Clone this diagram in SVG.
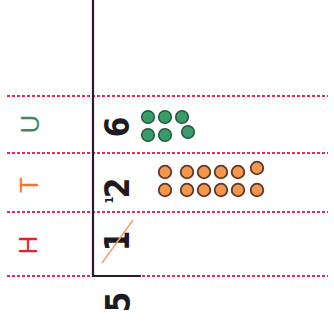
<svg xmlns="http://www.w3.org/2000/svg" width="334" height="327" viewBox="0 0 334 327">
<style>
.dash{stroke:#e62c55;stroke-width:1.8;stroke-dasharray:3 2;fill:none}
.axis{stroke:#2a1c2c;stroke-width:2.2;fill:none}
.lbl{font-family:"Liberation Sans",Arial,sans-serif;font-size:26px;text-anchor:middle}
.dig{font-family:"DejaVu Sans Condensed","DejaVu Sans",sans-serif;font-weight:bold;font-size:33px;text-anchor:middle;fill:#1e1a22}
.g{fill:#3a9a68;stroke:#1f5a3c;stroke-width:1.5}
.o{fill:#f5964a;stroke:#5a3a2e;stroke-width:1.8}
</style>
<rect width="334" height="327" fill="#ffffff"/>
<g id="connectors">
<line class="dash" x1="7" y1="96" x2="328" y2="96"/>
<line class="dash" x1="7" y1="153" x2="328" y2="153"/>
<line class="dash" x1="7" y1="212" x2="328" y2="212"/>
<line class="dash" x1="7" y1="276" x2="328" y2="276"/>
<polyline class="axis" points="93,0 93,276 141,276"/>
</g>
<g id="label-U"><text class="lbl" fill="#3a8a5c" transform="translate(30,124) rotate(-90)" y="9.3">U</text></g>
<g id="label-T"><text class="lbl" fill="#f07a2a" transform="translate(29,185) rotate(-90)" y="9.3">T</text></g>
<g id="label-H"><text class="lbl" fill="#e8202a" transform="translate(28,245) rotate(-90)" y="9.3">H</text></g>
<g id="digit-6"><text class="dig" transform="translate(117,127) rotate(-90)" y="12">6</text></g>
<g id="digit-2"><text class="dig" transform="translate(117,188) rotate(-90)" y="12">2</text></g>
<g id="carry-1"><text class="dig" style="font-size:11px" transform="translate(109,200) rotate(-90)" y="4">1</text></g>
<g id="digit-1"><text class="dig" transform="translate(117,241) rotate(-90)" y="12">1</text>
<line x1="102" y1="263" x2="133" y2="220" stroke="#f0a070" stroke-width="1.5"/></g>
<g id="digit-5"><text class="dig" transform="translate(118,302) rotate(-90)" y="12">5</text></g>
<g id="green-dots">
<circle class="g" cx="148" cy="117" r="6.3"/><circle class="g" cx="165" cy="117" r="6.3"/><circle class="g" cx="182" cy="117" r="6.3"/>
<circle class="g" cx="148" cy="135" r="6.3"/><circle class="g" cx="165" cy="135" r="6.3"/><circle class="g" cx="188" cy="132" r="6.3"/>
</g>
<g id="orange-dots">
<circle class="o" cx="165" cy="172" r="6.3"/><circle class="o" cx="187" cy="172" r="6.3"/><circle class="o" cx="204" cy="172" r="6.3"/><circle class="o" cx="221" cy="172" r="6.3"/><circle class="o" cx="238" cy="172" r="6.3"/><circle class="o" cx="257" cy="168" r="6.3"/>
<circle class="o" cx="165" cy="190" r="6.3"/><circle class="o" cx="187" cy="190" r="6.3"/><circle class="o" cx="204" cy="190" r="6.3"/><circle class="o" cx="221" cy="190" r="6.3"/><circle class="o" cx="238" cy="190" r="6.3"/><circle class="o" cx="257" cy="190" r="6.3"/>
</g>
</svg>
